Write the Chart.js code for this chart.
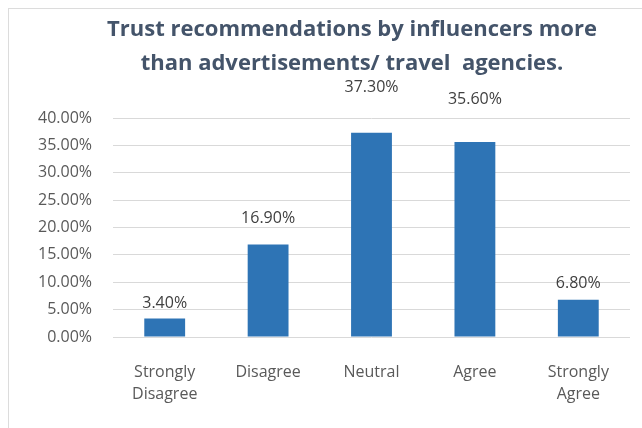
<!DOCTYPE html>
<html>
<head>
<meta charset="utf-8">
<script src="https://cdn.jsdelivr.net/npm/chart.js@4.4.0/dist/chart.umd.min.js"></script>
<style>
    body { margin: 0; background: #ffffff; }
    #wrap { position: relative; width: 642px; height: 428px; overflow: hidden; }
    #frame {
        position: absolute; left: 8px; top: 8px; width: 700px; height: 500px;
        border-top: 1px solid #dcdcdc; border-left: 1px solid #dcdcdc;
        pointer-events: none;
    }
</style>
</head>
<body>
<div id="wrap">
    <canvas id="bar-chart" width="642" height="428"></canvas>
    <div id="frame"></div>
</div>
<script>
// survey answers
const answers = [['Strongly', 'Disagree'], 'Disagree', 'Neutral', 'Agree', ['Strongly', 'Agree']];
const shares = [3.4, 16.9, 37.3, 35.6, 6.8];
const yTicks = [0, 5, 10, 15, 20, 25, 30, 35, 40];

const chartTitle = ['Trust recommendations by influencers more', 'than advertisements/ travel  agencies.'];

// two-line heading, centred a little left of the plot area
const heading = {
    id: 'heading',
    afterDraw(chart, args, opts) {
        const ctx = chart.ctx;
        ctx.save();
        ctx.font = opts.font;
        ctx.fillStyle = opts.color;
        ctx.textAlign = 'center';
        ctx.textBaseline = 'alphabetic';
        opts.lines.forEach((line, i) => {
            ctx.fillText(line, opts.x, opts.baseline + i * opts.lineGap);
        });
        ctx.restore();
    }
};

// writes the percentage above each bar
const valueLabels = {
    id: 'valueLabels',
    afterDatasetsDraw(chart, args, opts) {
        const ctx = chart.ctx;
        const meta = chart.getDatasetMeta(0);
        ctx.save();
        ctx.font = opts.font;
        ctx.fillStyle = opts.color;
        ctx.textAlign = 'center';
        ctx.textBaseline = 'middle';
        meta.data.forEach((bar, i) => {
            const v = chart.data.datasets[0].data[i];
            ctx.fillText(v.toFixed(2) + '%', bar.x, bar.y - opts.lift[i]);
        });
        ctx.restore();
    }
};

const ctx = document.getElementById('bar-chart').getContext('2d');
new Chart(ctx, {
    type: 'bar',
    data: {
        labels: answers,
        datasets: [{
            data: shares,
            backgroundColor: '#2e74b5',
            borderWidth: 0,
            barPercentage: 0.79,
            categoryPercentage: 0.5
        }]
    },
    options: {
        responsive: false,
        animation: false,
        layout: {
            padding: { top: 118, right: 12, bottom: 0, left: 0 }
        },
        scales: {
            x: {
                grid: { display: false, drawTicks: false },
                border: { display: false },
                ticks: {
                    color: '#595959',
                    padding: 24,
                    maxRotation: 0,
                    font: { family: 'Open Sans', size: 16, lineHeight: 1.4 }
                },
                afterFit(scale) { scale.height = 91; }
            },
            y: {
                min: 0,
                max: 40,
                afterBuildTicks(scale) {
                    scale.ticks = yTicks.map(v => ({ value: v }));
                },
                grid: { color: '#d9d9d9', lineWidth: 1, drawTicks: false },
                border: { display: false },
                ticks: {
                    color: '#595959',
                    padding: 21,
                    font: { family: 'Open Sans', size: 16 },
                    callback: v => v.toFixed(2) + '%'
                },
                afterFit(scale) { scale.width = 113; }
            }
        },
        plugins: {
            legend: { display: false },
            tooltip: { enabled: false },
            title: { display: false },
            heading: {
                lines: chartTitle,
                font: 'bold 22px "Open Sans"',
                color: '#44546a',
                x: 352,
                baseline: 36,
                lineGap: 33.5
            },
            valueLabels: {
                font: '16px "Open Sans"',
                color: '#404040',
                lift: [15, 26, 45, 43, 16]
            }
        }
    },
    plugins: [heading, valueLabels]
});
</script>
</body>
</html>
